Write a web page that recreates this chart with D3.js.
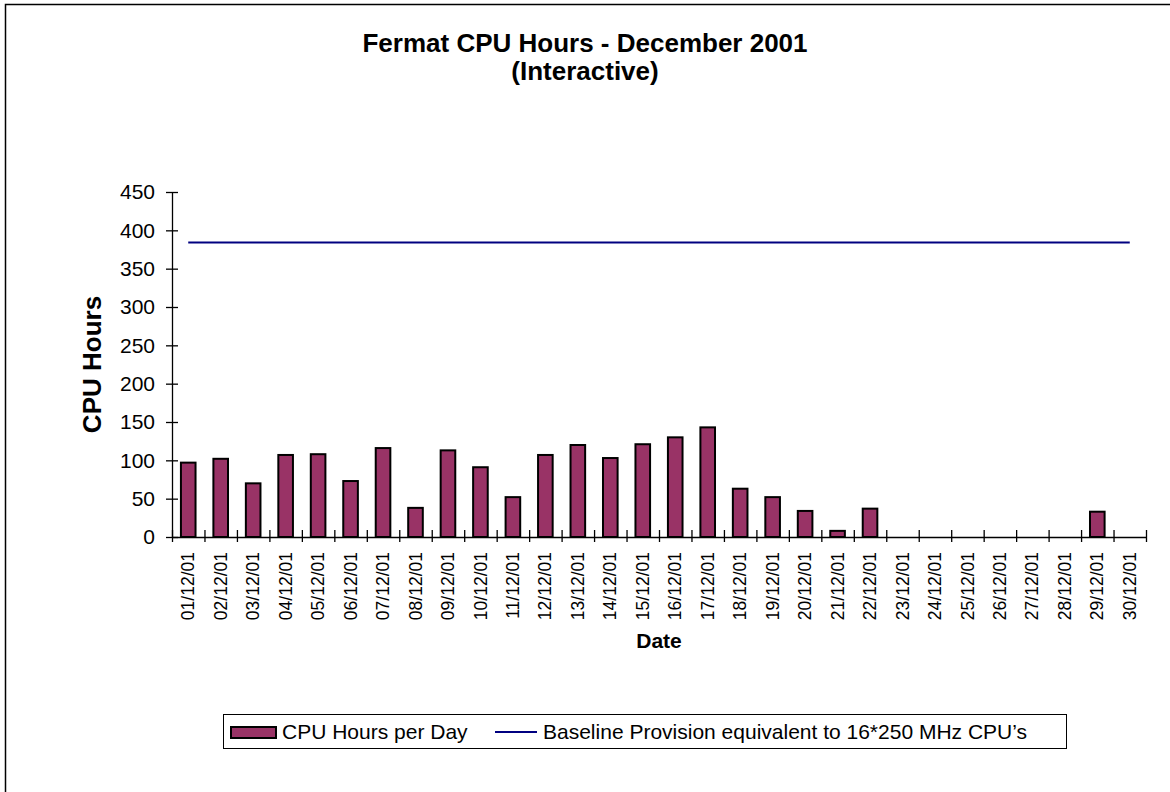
<!DOCTYPE html>
<html>
<head>
<meta charset="utf-8">
<script src="https://cdn.jsdelivr.net/npm/d3@7"></script>
<style>
body { margin: 0; background: #fff; }
text { font-family: Arial, "Liberation Sans", sans-serif; fill: #000; }
</style>
</head>
<body>
<div id="view"></div>
<script>
var width = 1170, height = 792;

// data
var dates = ["01/12/01","02/12/01","03/12/01","04/12/01","05/12/01","06/12/01","07/12/01","08/12/01","09/12/01","10/12/01",
	"11/12/01","12/12/01","13/12/01","14/12/01","15/12/01","16/12/01","17/12/01","18/12/01","19/12/01","20/12/01",
	"21/12/01","22/12/01","23/12/01","24/12/01","25/12/01","26/12/01","27/12/01","28/12/01","29/12/01","30/12/01"];
var cpuHours = [97, 102, 70, 107, 108, 73, 116, 38, 113, 91,
	52, 107, 120, 103, 121, 130, 143, 63, 52, 34,
	8, 37, 0, 0, 0, 0, 0, 0, 33, 0];
var baselineHours = [384, 384, 384, 384, 384, 384, 384, 384, 384, 384,
	384, 384, 384, 384, 384, 384, 384, 384, 384, 384,
	384, 384, 384, 384, 384, 384, 384, 384, 384, 384];
var yTicks = [0, 50, 100, 150, 200, 250, 300, 350, 400, 450];
var seriesNames = ["CPU Hours per Day", "Baseline Provision equivalent to 16*250 MHz CPU\u2019s"];

var plotLeft = 172, plotRight = 1146, plotTop = 192, plotBottom = 537;

var svg = d3.select("#view").append("svg")
	.attr("width", width)
	.attr("height", height);

// outer frame (right and bottom edges fall outside the picture)
svg.append("rect")
	.attr("x", 5.5).attr("y", 4.5)
	.attr("width", 1200).attr("height", 900)
	.style("fill", "none").style("stroke", "#000").style("stroke-width", 1.5);

var x = d3.scaleBand().domain(dates).range([plotLeft, plotRight]).padding(0);
var xIdx = d3.scaleLinear().domain([0, dates.length]).range([plotLeft, plotRight]);
var y = d3.scaleLinear().domain([0, 450]).range([plotBottom, plotTop]);

// title
svg.append("text").attr("x", 585).attr("y", 52).attr("text-anchor", "middle")
	.style("font-size", "26px").style("font-weight", "bold")
	.text("Fermat CPU Hours - December 2001");
svg.append("text").attr("x", 585).attr("y", 80).attr("text-anchor", "middle")
	.style("font-size", "26px").style("font-weight", "bold")
	.text("(Interactive)");

// bars
var bw = x.bandwidth() * 0.45;
svg.selectAll(".bar")
	.data(cpuHours).enter()
	.append("rect")
	.attr("class", "bar")
	.attr("x", function(d, i) { return x(dates[i]) + (x.bandwidth() - bw) / 2; })
	.attr("y", function(d) { return y(d); })
	.attr("width", bw)
	.attr("height", function(d) { return plotBottom - y(d); })
	.style("fill", "#993366")
	.style("stroke", "#000")
	.style("stroke-width", 2)
	.style("display", function(d) { return d > 0 ? null : "none"; });

// baseline line
var line = d3.line()
	.x(function(d, i) { return x(dates[i]) + x.bandwidth() / 2; })
	.y(function(d) { return y(d); });
svg.append("path")
	.datum(baselineHours)
	.attr("d", line)
	.style("fill", "none")
	.style("stroke", "#000080")
	.style("stroke-width", 2);

// y axis
var yAxis = svg.append("g")
	.attr("transform", "translate(" + plotLeft + ",0)")
	.call(d3.axisLeft(y).tickValues(yTicks).tickSize(6).tickPadding(11).tickSizeOuter(0));
yAxis.select(".domain").attr("stroke", "#000").attr("stroke-width", 1.3);
yAxis.selectAll(".tick line").attr("x1", -6).attr("x2", 6).attr("stroke-width", 1.3);
yAxis.selectAll(".tick text").style("font-size", "21px").style("font-family", "Arial, 'Liberation Sans', sans-serif");

// x axis: ticks between categories
var xTickAxis = svg.append("g")
	.attr("transform", "translate(0," + plotBottom + ")")
	.call(d3.axisBottom(xIdx).tickValues(d3.range(dates.length + 1)).tickFormat("").tickSizeOuter(0));
xTickAxis.select(".domain").attr("stroke", "#000").attr("stroke-width", 1.3);
xTickAxis.selectAll(".tick line").attr("y1", -7).attr("y2", 5).attr("stroke-width", 1.3);

// x labels
var xAxis = svg.append("g")
	.attr("transform", "translate(0," + plotBottom + ")")
	.call(d3.axisBottom(x).tickSize(0).tickSizeOuter(0));
xAxis.select(".domain").remove();
xAxis.selectAll(".tick text")
	.attr("transform", "rotate(-90)")
	.attr("x", -15).attr("y", 0).attr("dy", "0.35em")
	.attr("text-anchor", "end")
	.style("font-size", "17.5px")
	.style("font-family", "Arial, 'Liberation Sans', sans-serif");

// axis titles
svg.append("text").attr("x", 659).attr("y", 648).attr("text-anchor", "middle")
	.style("font-size", "21px").style("font-weight", "bold").text("Date");
svg.append("text")
	.attr("transform", "translate(101," + ((plotTop + plotBottom) / 2) + ") rotate(-90)")
	.attr("text-anchor", "middle")
	.style("font-size", "26px").style("font-weight", "bold").text("CPU Hours");

// legend
var lg = svg.append("g");
lg.append("rect").attr("x", 223.5).attr("y", 714.5).attr("width", 843).attr("height", 34)
	.style("fill", "#fff").style("stroke", "#000").style("stroke-width", 1);
lg.append("rect").attr("x", 231).attr("y", 727).attr("width", 45).attr("height", 11)
	.style("fill", "#993366").style("stroke", "#000").style("stroke-width", 2);
lg.append("text").attr("x", 282).attr("y", 739).style("font-size", "21px").text(seriesNames[0]);
lg.append("line").attr("x1", 495).attr("x2", 537).attr("y1", 732).attr("y2", 732)
	.style("stroke", "#000080").style("stroke-width", 2);
lg.append("text").attr("x", 543).attr("y", 739).style("font-size", "21px").text(seriesNames[1]);
</script>
</body>
</html>
